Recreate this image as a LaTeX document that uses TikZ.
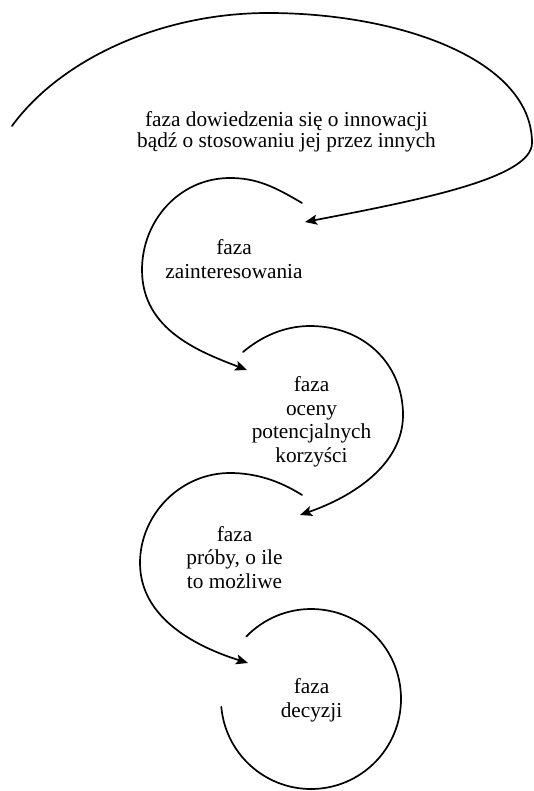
\documentclass[tikz,border=0pt]{standalone}
\usepackage{fontspec}
\setmainfont{Liberation Serif}
\usetikzlibrary{arrows.meta}
\begin{document}
\begin{tikzpicture}[x=1pt,y=-1pt,
  spiral/.style={line width=1.7pt, line cap=round},
  arr/.style={spiral, -{Stealth[length=12pt,width=10pt,inset=2.5pt]}},
  lbl/.style={font=\fontsize{21.3}{23.5}\selectfont, align=center, inner sep=0pt, anchor=base}]
\useasboundingbox (0,0) rectangle (534,791);
% labels (anchor = baseline of last line)
\node[lbl, font=\fontsize{21.3}{21.5}\selectfont] (tA) at (286.5,148) {faza dowiedzenia się o innowacji\\bądź o stosowaniu jej przez innych};
\node[lbl] (tB) at (234,278) {faza\\zainteresowania};
\node[lbl] (tC) at (311.5,462) {faza\\oceny\\potencjalnych\\korzyści};
\node[lbl] (tD) at (234.5,588) {faza\\próby, o ile\\to możliwe};
\node[lbl] (tE) at (311.5,717) {faza\\decyzji};
% curve points
\coordinate (a0) at (12,126);
\coordinate (a1) at (268,13);
\coordinate (a2) at (532,143);
\coordinate (a3) at (305,222);
\coordinate (b0) at (302,203);
\coordinate (b1) at (230,178);
\coordinate (b2) at (142,270);
\coordinate (b3) at (247,370);
\coordinate (c0) at (243,352);
\coordinate (c1) at (310,326);
\coordinate (c2) at (403,415);
\coordinate (c3) at (300,515);
\coordinate (d0) at (302,495);
\coordinate (d1) at (230,473);
\coordinate (d2) at (140,563);
\coordinate (d3) at (248,663);
\coordinate (e0) at (246.3,636.5);
\coordinate (e1) at (311,609);
\coordinate (e2) at (401,699);
\coordinate (e3) at (311,789);
\coordinate (e4) at (221.3,706.8);
% curves
\draw[arr] (a0) .. controls (60,60) and (160,13) .. (a1)
  .. controls (400,13) and (532,60) .. (a2)
  .. controls (532,178) and (420,200) .. (a3);
\draw[arr] (b0) .. controls (275,187) and (257,178) .. (b1)
  .. controls (180,178) and (142,220) .. (b2)
  .. controls (142,330) and (200,352) .. (b3);
\draw[arr] (c0) .. controls (262,336) and (285,326) .. (c1)
  .. controls (365,326) and (403,365) .. (c2)
  .. controls (403,465) and (352,497) .. (c3);
\draw[arr] (d0) .. controls (280,481) and (256,473) .. (d1)
  .. controls (180,473) and (140,515) .. (d2)
  .. controls (140,620) and (200,648) .. (d3);
\draw[spiral] (e0) .. controls (263.3,619) and (286.6,609) .. (e1)
  .. controls (360.7,609) and (401,648.3) .. (e2)
  .. controls (401,748.7) and (360.7,789) .. (e3)
  .. controls (264.3,789) and (225.4,753.3) .. (e4);
\end{tikzpicture}
\end{document}
